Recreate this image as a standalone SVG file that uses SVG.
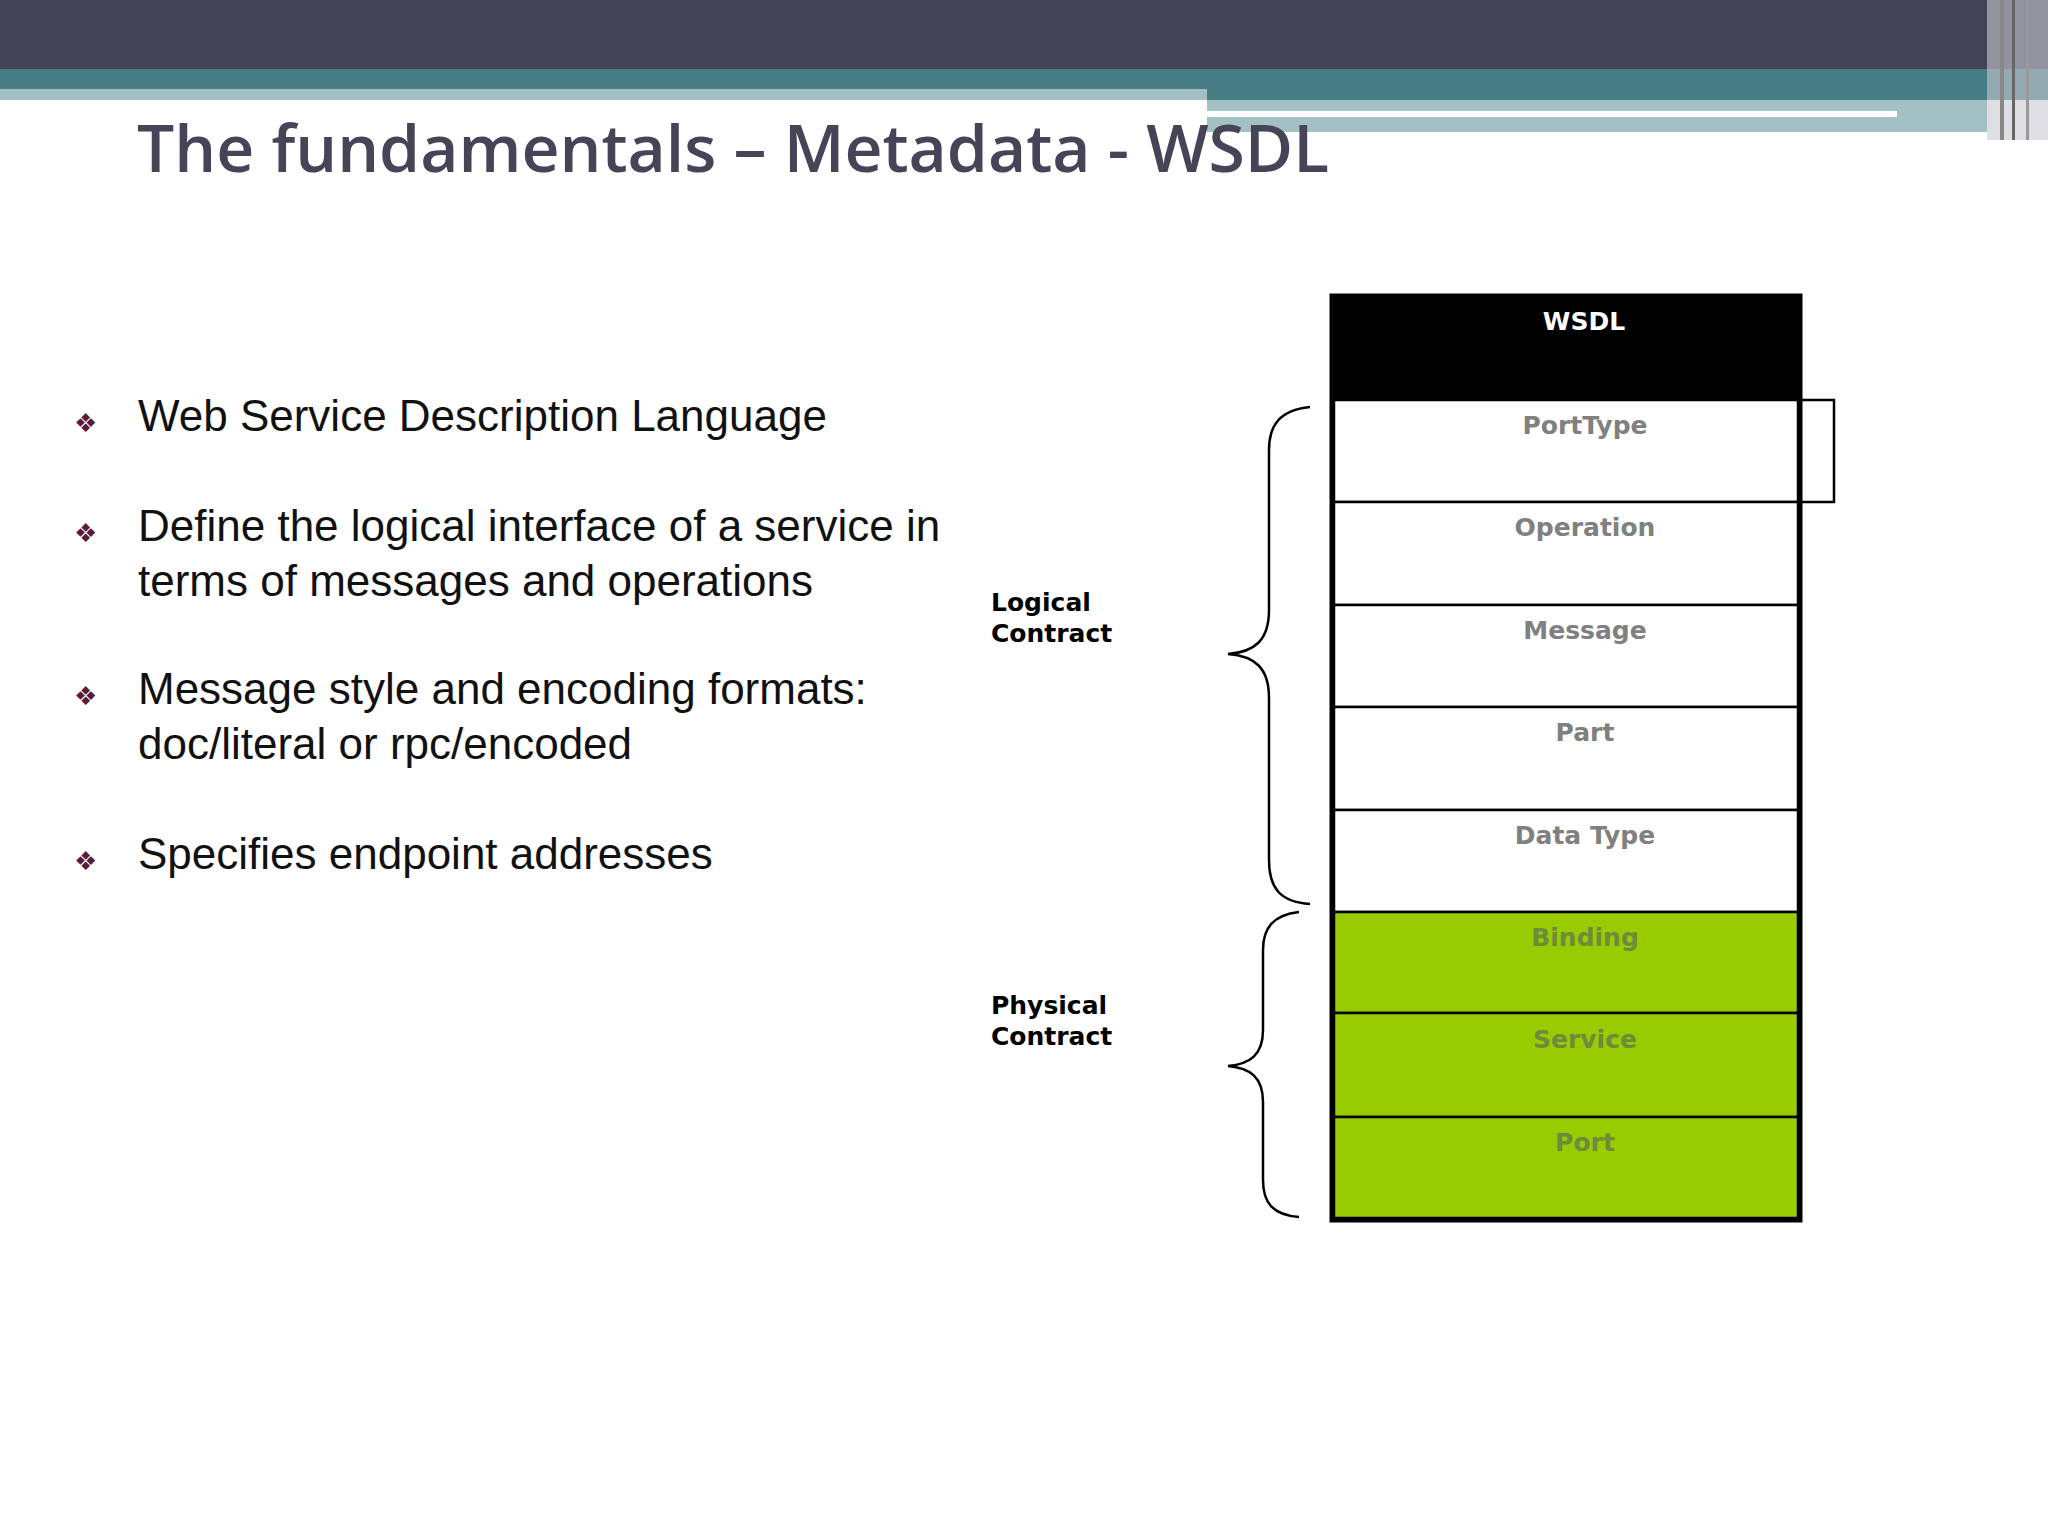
<svg xmlns="http://www.w3.org/2000/svg" width="2048" height="1536" viewBox="0 0 2048 1536">
<style>
.b{font-family:"Liberation Sans",Arial,sans-serif;font-size:44px;fill:#111}
.d{font-family:"DejaVu Sans",sans-serif;font-size:26px;fill:#5a1a3a}
.l{font-family:"DejaVu Sans",sans-serif;font-weight:bold;font-size:25px;fill:#000}
.r{font-family:"DejaVu Sans",sans-serif;font-weight:bold;font-size:25px;fill:#808080;text-anchor:middle}
.row{stroke:#000;stroke-width:2.5}
.br{fill:none;stroke:#000;stroke-width:2.5}
</style>
<rect width="2048" height="1536" fill="#fff"/>
<g id="header">
<rect x="0" y="0" width="2048" height="69" fill="#454457"/>
<rect x="0" y="69" width="2048" height="31" fill="#477e85"/>
<rect x="0" y="89" width="1207" height="11" fill="#a3c0c4"/>
<rect x="1207" y="100" width="780" height="32" fill="#a3c0c4"/>
<rect x="1207" y="111" width="690" height="6" fill="#fff"/>
<rect x="1478" y="132" width="170" height="8" fill="#fff"/>
<rect x="1987" y="0" width="61" height="140" fill="#c8c8d0" opacity="0.6"/>
<rect x="2000" y="0" width="4" height="140" fill="#888"/>
<rect x="2012" y="0" width="3" height="140" fill="#666"/>
<rect x="2026" y="0" width="3" height="140" fill="#999"/>
</g>
<text x="137" y="172" font-family="'Open Sans',sans-serif" font-weight="600" font-size="66" fill="#474457">The fundamentals – Metadata - WSDL</text>
<g id="bullets">
<text class="d" x="74" y="432">❖</text><text class="b" x="138" y="431">Web Service Description Language</text>
<text class="d" x="74" y="542">❖</text><text class="b" x="138" y="541">Define the logical interface of a service in</text>
<text class="b" x="138" y="596">terms of messages and operations</text>
<text class="d" x="74" y="705">❖</text><text class="b" x="138" y="704">Message style and encoding formats:</text>
<text class="b" x="138" y="759">doc/literal or rpc/encoded</text>
<text class="d" x="74" y="870">❖</text><text class="b" x="138" y="869">Specifies endpoint addresses</text>
</g>
<g id="labels">
<text class="l" x="991" y="611">Logical</text><text class="l" x="991" y="642">Contract</text>
<text class="l" x="991" y="1014">Physical</text><text class="l" x="991" y="1045">Contract</text>
</g>
<g id="connectors">
<path class="br" d="M1310 407 C1280 410 1269 425 1269 450 L1269 610 C1269 640 1255 652 1228 654 C1255 656 1269 668 1269 698 L1269 860 C1269 888 1280 902 1310 904"/>
<path class="br" d="M1299 912 C1273 915 1263 928 1263 950 L1263 1030 C1263 1055 1250 1064 1228 1066 C1250 1068 1263 1077 1263 1102 L1263 1180 C1263 1203 1273 1215 1299 1217"/>
</g>
<g id="wsdl">
<rect x="1331" y="296" width="470" height="104" fill="#000"/>
<text x="1584" y="330" font-family="'DejaVu Sans',sans-serif" font-weight="bold" font-size="25" fill="#fff" text-anchor="middle">WSDL</text>
</g>
<g id="porttype"><rect class="row" x="1334" y="400" width="500" height="102" fill="#fff" transform="translate(0,0)" width2="0"/></g>
<g id="rows">
<rect class="row" x="1334" y="400" width="464" height="102" fill="#fff"/>
<rect class="row" x="1334" y="502" width="464" height="103" fill="#fff"/>
<rect class="row" x="1334" y="605" width="464" height="102" fill="#fff"/>
<rect class="row" x="1334" y="707" width="464" height="103" fill="#fff"/>
<rect class="row" x="1334" y="810" width="464" height="102" fill="#fff"/>
<rect class="row" x="1334" y="912" width="464" height="101" fill="#99cc00"/>
<rect class="row" x="1334" y="1013" width="464" height="104" fill="#99cc00"/>
<rect class="row" x="1334" y="1117" width="464" height="101" fill="#99cc00"/>
<text class="r" x="1585" y="434">PortType</text>
<text class="r" x="1585" y="536">Operation</text>
<text class="r" x="1585" y="639">Message</text>
<text class="r" x="1585" y="741">Part</text>
<text class="r" x="1585" y="844">Data Type</text>
<text class="r" x="1585" y="946" fill="#6f8a3a" style="fill:#6f8a3a">Binding</text>
<text class="r" x="1585" y="1048" style="fill:#6f8a3a">Service</text>
<text class="r" x="1585" y="1151" style="fill:#6f8a3a">Port</text>
</g>
<rect x="1332" y="296" width="504" height="924" fill="none" stroke="#000" stroke-width="5" transform="translate(0,0)" opacity="0"/>
<rect x="1332" y="296" width="468" height="924" fill="none" stroke="#000" stroke-width="5"/>
</svg>
